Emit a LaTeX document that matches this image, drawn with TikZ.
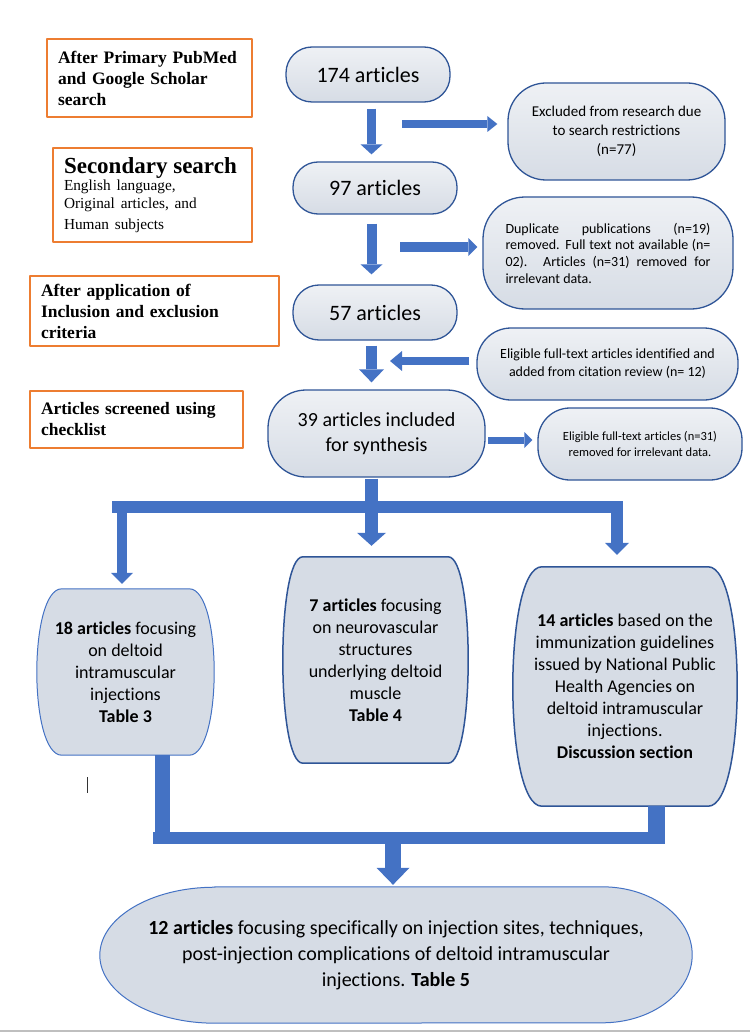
\documentclass[tikz,border=0pt]{standalone}
\usepackage{fontspec}
\setmainfont{Carlito}[Ligatures=NoCommon]
\newfontfamily\tagfont{Liberation Serif}
\usetikzlibrary{arrows.meta,calc,backgrounds}
\definecolor{tagorange}{HTML}{ED7D31}
\definecolor{flowblue}{HTML}{4472C4}
\definecolor{edgeblue}{HTML}{2F5597}
\definecolor{stagefill}{HTML}{D6DCE5}
\begin{document}
\begin{tikzpicture}[x=1pt,y=-1pt,line join=round,
  tag/.style={draw=tagorange,line width=2pt,anchor=north west,align=left,inner xsep=11pt,inner ysep=2pt,
    font=\tagfont\bfseries\fontsize{17.5}{21}\selectfont},
  stage/.style={draw=edgeblue,line width=1.3pt,top color=stagefill!40,bottom color=stagefill,align=center,inner sep=2pt},
  big/.style={font=\fontsize{22}{25}\selectfont},
  barrelbox/.style={align=center,inner sep=0pt,font=\fontsize{18}{22}\selectfont},
  fat/.style n args={3}{flowblue,line width=#1,-{Triangle[width=#2,length=#3,line width=0pt]}}]
	\useasboundingbox (0,0) rectangle (750,1032);
	\def\barrel#1#2#3{\draw[fill=stagefill,#3] ($(#1.north west)+(#2,0)$) -- ($(#1.north east)+(-#2,0)$)
		.. controls ($(#1.north east)+(#2/3,0)$) and ($(#1.south east)+(#2/3,0)$) .. ($(#1.south east)+(-#2,0)$)
		-- ($(#1.south west)+(#2,0)$)
		.. controls ($(#1.south west)+(-#2/3,0)$) and ($(#1.north west)+(-#2/3,0)$) .. cycle;}
	% search steps
	\node[tag,text width=183pt,minimum height=78pt] (t1) at (46,38) {After Primary PubMed\\ and Google Scholar\\ search};
	\node[tag,text width=177pt,minimum height=94pt] (t2) at (52,147) {\fontsize{23}{26}\selectfont Secondary search\\
		\mdseries\fontsize{15.3}{17.5}\selectfont English language,\\ Original articles, and\\ Human subjects};
	\node[tag,text width=227pt,minimum height=70pt] (t3) at (29,275) {After application of\\ Inclusion and exclusion\\ criteria};
	\node[tag,text width=191pt,minimum height=57pt] (t4) at (29,390) {Articles screened using\\ checklist};
	% counts
	\node[stage,big,minimum width=164pt,minimum height=55pt,rounded corners=26pt] (n174) at (368,74.5) {174 articles};
	\node[stage,big,minimum width=164pt,minimum height=52pt,rounded corners=25pt] (n97) at (375,188) {97 articles};
	\node[stage,big,minimum width=164pt,minimum height=55pt,rounded corners=26pt] (n57) at (375,312.5) {57 articles};
	\node[stage,font=\fontsize{20}{25}\selectfont,minimum width=217pt,minimum height=87pt,rounded corners=38pt] (n39) at (376.5,433.5) {39 articles included\\ for synthesis};
	\node[stage,font=\fontsize{15}{19}\selectfont,minimum width=217pt,minimum height=97pt,rounded corners=38pt] (excl) at (616.5,131.5)
		{Excluded from research due\\ to search restrictions\\ (n=77)};
	\node[stage,font=\fontsize{14}{16.7}\selectfont,text width=205pt,align=justify,minimum width=250pt,minimum height=112pt,rounded corners=42pt] (dup) at (608,253)
		{Duplicate publications (n=19)\linebreak removed. Full text not available (n=\linebreak 02). Articles (n=31) removed for\linebreak irrelevant data.};
	\node[stage,font=\fontsize{14}{18}\selectfont,minimum width=261pt,minimum height=72pt,rounded corners=34pt] (elig) at (607.5,364)
		{Eligible full-text articles identified and\\ added from citation review (n= 12)};
	\node[stage,font=\fontsize{12.5}{15.5}\selectfont,minimum width=204pt,minimum height=72pt,rounded corners=32pt] (rem) at (640,444)
		{Eligible full-text articles (n=31)\\ removed for irrelevant data.};
	% groups
	\node[barrelbox,minimum width=177pt,minimum height=166pt] (b18) at (125.5,672)
		{\textbf{18 articles} focusing\\ on deltoid\\ intramuscular\\ injections\\ \textbf{Table 3}};
	\node[barrelbox,minimum width=185pt,minimum height=206pt] (b7) at (375.5,660)
		{\textbf{7 articles} focusing\\ on neurovascular\\ structures\\ underlying deltoid\\ muscle\\ \textbf{Table 4}};
	\node[barrelbox,minimum width=224pt,minimum height=239pt] (b14) at (625,686.5)
		{\textbf{14 articles} based on the\\ immunization guidelines\\ issued by National Public\\ Health Agencies on\\ deltoid intramuscular\\ injections.\\ \textbf{Discussion section}};
	\node[align=center,inner sep=0pt,font=\fontsize{20}{26}\selectfont,minimum width=592pt,minimum height=136pt] (sum) at (396,955)
		{\textbf{12 articles} focusing specifically on injection sites, techniques,\\ post-injection complications of deltoid intramuscular\\ injections. \textbf{Table 5}};
	\begin{scope}[on background layer]
		\barrel{b18}{25}{draw=flowblue,line width=1pt}
		\barrel{b7}{20}{draw=edgeblue,line width=1.5pt}
		\barrel{b14}{29}{draw=edgeblue,line width=1.5pt}
		\draw[fill=stagefill,draw=flowblue,line width=1pt] ($(sum.north west)+(115,0)$) -- ($(sum.north east)+(-90,0)$)
			arc[start angle=-90,end angle=90,x radius=90,y radius=68] -- ($(sum.south west)+(115,0)$)
			arc[start angle=90,end angle=270,x radius=115,y radius=68] -- cycle;
	\end{scope}
	% arrows
	\coordinate (spine) at (371.5,0);
	\draw[fat={9pt}{22pt}{10pt},shorten <=6pt,shorten >=7pt] (n174.south -| spine) -- (n97.north -| spine);
	\draw[fat={10pt}{22pt}{10pt},shorten <=9pt,shorten >=10pt] (n97.south -| spine) -- (n57.north -| spine);
	\draw[fat={11pt}{25pt}{13pt},shorten <=5pt,shorten >=7pt] (n57.south -| spine) -- (n39.north -| spine);
	\coordinate (out1) at (402,124);
	\draw[fat={8pt}{16pt}{10pt},shorten >=10pt] (out1) -- (out1 -| excl.west);
	\coordinate (out2) at (400,247);
	\draw[fat={10pt}{18pt}{9pt},shorten >=5pt] (out2) -- (out2 -| dup.west);
	\coordinate (in1) at (390,361);
	\draw[fat={8pt}{20pt}{12pt},shorten <=7pt] (in1 -| elig.west) -- (in1);
	\coordinate (out3) at (488,440);
	\draw[fat={7pt}{16pt}{8pt},shorten >=5pt] (out3) -- (out3 -| rem.west);
	% split
	\coordinate (forkL) at (122,507);
	\coordinate (forkR) at (617,507);
	\draw[flowblue,line width=12pt] ($(forkL)+(-10,0)$) -- ($(forkR)+(6,0)$);
	\draw[fat={13pt}{29pt}{13pt},shorten <=1pt,shorten >=11pt] (n39.south -| spine) -- (b7.north -| spine);
	\draw[fat={10pt}{22pt}{11pt},shorten >=5pt] (forkL) -- (forkL |- b18.north);
	\draw[fat={12pt}{24pt}{12pt},shorten >=12pt] (forkR) -- (forkR |- b14.north);
	% merge
	\coordinate (joinL) at (162.5,838);
	\coordinate (joinR) at (656.5,838);
	\coordinate (drop) at (393,838);
	\draw[flowblue,line width=15pt] (b18.south -| joinL) -- ($(joinL)+(0,6)$);
	\draw[flowblue,line width=17pt] (b14.south -| joinR) -- ($(joinR)+(0,5)$);
	\draw[flowblue,line width=12pt] ($(joinL)+(-9.5,0)$) -- ($(joinR)+(8.5,0)$);
	\draw[fat={16pt}{33pt}{17pt},shorten >=2pt] (drop) -- (drop |- sum.north);
	\draw[line width=1pt,black!80] (87,777) -- (87,793);
	\draw[line width=2pt,black!25] (0,1031) -- (750,1031);
\end{tikzpicture}
\end{document}
